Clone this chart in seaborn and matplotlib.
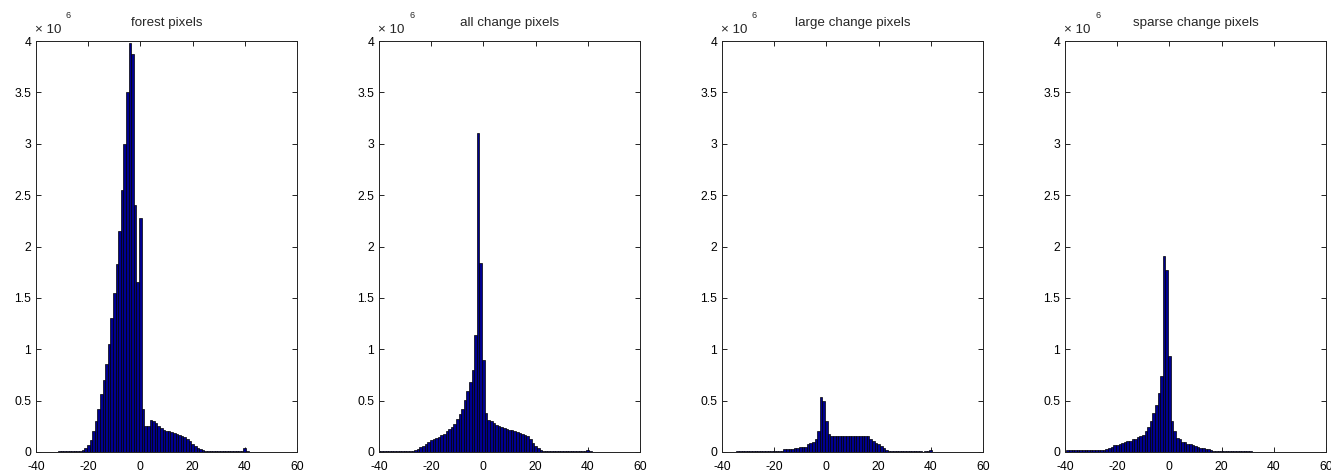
import numpy as np
import pandas as pd
import matplotlib
matplotlib.use("Agg")
import matplotlib.pyplot as plt
import matplotlib.transforms as mtransforms
import seaborn as sns
from matplotlib.ticker import FuncFormatter, MultipleLocator

# ---- data (counts in units of 1e6, one bin per integer value) ----
titles = ["forest pixels", "all change pixels", "large change pixels", "sparse change pixels"]

forest_start = -31
forest_counts = [0.008, 0.012, 0.012, 0.006, 0.01, 0.01, 0.01, 0.01, 0.01, 0.02, 0.04,
                 0.07, 0.12, 0.20, 0.30, 0.42, 0.56, 0.70, 0.86, 1.05, 1.30, 1.55, 1.83,
                 2.15, 2.55, 3.00, 3.50, 3.98, 3.87, 2.40, 1.65, 2.28, 0.42, 0.25, 0.25,
                 0.31, 0.30, 0.28, 0.25, 0.23, 0.21, 0.20, 0.20, 0.19, 0.185, 0.18, 0.17,
                 0.16, 0.15, 0.13, 0.11, 0.08, 0.06, 0.04, 0.025, 0.015, 0.008, 0.008,
                 0.008, 0.008, 0.008, 0.008, 0.008, 0.008, 0.008, 0.008, 0.008, 0.005,
                 0.012, 0.005, 0.012, 0.04, 0.008]

allchg_start = -40
allchg_counts = [0.008] * 14 + [0.015, 0.026, 0.045, 0.06, 0.08, 0.10, 0.115, 0.125, 0.135,
                 0.145, 0.165, 0.18, 0.20, 0.22, 0.24, 0.27, 0.32, 0.37, 0.42, 0.51, 0.59,
                 0.68, 0.80, 1.14, 3.10, 1.84, 0.90, 0.38, 0.31, 0.30, 0.28, 0.26, 0.25,
                 0.24, 0.23, 0.22, 0.215, 0.21, 0.20, 0.19, 0.185, 0.18, 0.17, 0.155, 0.125,
                 0.09, 0.06, 0.035, 0.02, 0.012] + [0.006] * 16 + [0.02, 0.005]

large_start = -34
large_counts = [0.012] * 14 + [0.005] * 4 + [0.026] * 4 + [0.035, 0.035, 0.05, 0.05, 0.05,
                0.075, 0.09, 0.10, 0.13, 0.20, 0.54, 0.50, 0.30, 0.18] + [0.155] * 15 + \
               [0.13, 0.107, 0.09, 0.075, 0.06, 0.035, 0.018, 0.01] + [0.008] * 12 + \
               [0.004, 0.008, 0.006, 0.015]

sparse_start = -39
sparse_counts = [0.015] * 13 + [0.017, 0.022, 0.026, 0.04, 0.05, 0.065, 0.07, 0.078, 0.09,
                 0.097, 0.105, 0.11, 0.125, 0.13, 0.143, 0.155, 0.17, 0.20, 0.24, 0.30,
                 0.376, 0.457, 0.57, 0.74, 1.91, 1.77, 0.93, 0.30, 0.20, 0.14, 0.13, 0.10,
                 0.095, 0.08, 0.075, 0.065, 0.058, 0.05, 0.04, 0.035, 0.03, 0.026, 0.02] + \
                [0.012] * 15

series = [(forest_start, forest_counts), (allchg_start, allchg_counts),
          (large_start, large_counts), (sparse_start, sparse_counts)]

sns.set_theme(style="white")
plt.rcParams['font.family'] = ['Liberation Sans', 'DejaVu Sans']
plt.rcParams['axes.unicode_minus'] = False

W, H = 1331, 475
fig = plt.figure(figsize=(W / 100, H / 100), dpi=100)

left0 = 36 / W
step = 343 / W
width = 261 / W
bottom = 23 / H
height = 411 / H

for i, (title, (start, counts)) in enumerate(zip(titles, series)):
    ax = fig.add_axes([left0 + i * step, bottom, width, height])
    centers = np.arange(start, start + len(counts))
    df = pd.DataFrame({"value": centers, "count": np.array(counts) * 1e6})
    sns.histplot(data=df, x="value", weights="count", discrete=True, shrink=1.0, ax=ax,
                 color="#00008f", edgecolor="black", linewidth=0.5, alpha=1.0)
    ax.set_xlim(-40, 60)
    ax.set_ylim(0, 4e6)
    ax.set_xticks([-40, -20, 0, 20, 40, 60])
    ax.yaxis.set_major_locator(MultipleLocator(0.5e6))
    ax.yaxis.set_major_formatter(FuncFormatter(lambda v, p: f"{v / 1e6:g}"))
    ax.set_xlabel("")
    ax.set_ylabel("")
    ax.tick_params(direction="in", length=3.5, width=0.6, colors="black",
                   labelsize=8.7, top=True, right=True, bottom=True, left=True)
    ax.tick_params(axis="x", pad=6.5)
    ax.tick_params(axis="y", pad=3.5)
    for s in ax.spines.values():
        s.set_color("#222222")
        s.set_linewidth(0.7)
    ax.set_title(title, fontsize=9.6, pad=11)
    t1 = mtransforms.offset_copy(ax.transAxes, fig=fig, x=-1, y=8, units="dots")
    ax.text(0.0, 1.0, "\u00d7 10", transform=t1, ha="left", va="baseline",
            fontsize=9.6)
    t2 = mtransforms.offset_copy(ax.transAxes, fig=fig, x=30, y=23, units="dots")
    ax.text(0.0, 1.0, "6", transform=t2, ha="left", va="baseline", fontsize=6.5)

fig.savefig("out.png", dpi=100)
